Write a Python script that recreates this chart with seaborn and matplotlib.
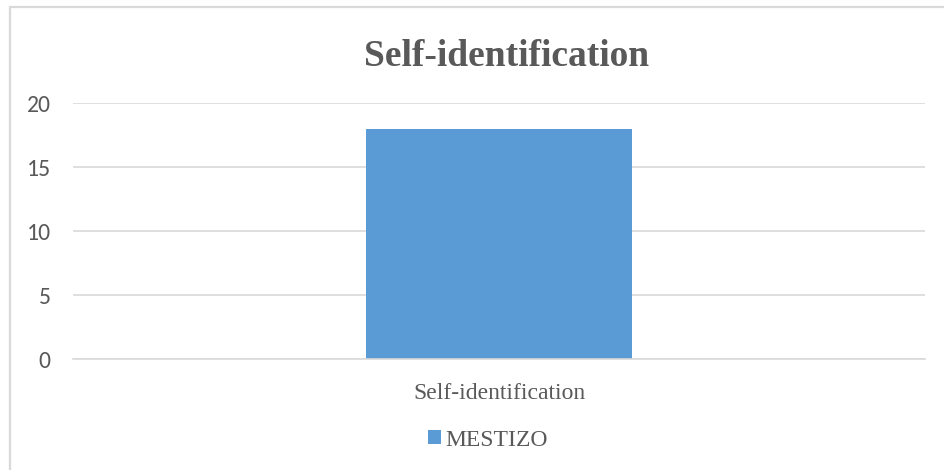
import matplotlib
matplotlib.use("Agg")
import matplotlib.pyplot as plt
import seaborn as sns
import pandas as pd
from matplotlib.patches import Rectangle

categories = ["Self-identification"]
series = ["MESTIZO"]
values = [18]
yticks = [0, 5, 10, 15, 20]
title = "Self-identification"

df = pd.DataFrame({"category": categories, "series": series, "value": values})

sns.set_theme(style="white")
plt.rcParams["font.family"] = ["Liberation Serif", "DejaVu Serif"]

fig = plt.figure(figsize=(9.44, 4.70), dpi=100)
ax = fig.add_axes([73/944, 1-359/470, (925-73)/944, (359-103)/470])

sns.barplot(data=df, x="category", y="value", hue="series", ax=ax,
            palette=["#5b9bd5"], width=0.313, saturation=1, edgecolor="none")

ax.set_ylim(0, 20)
ax.set_xlim(-0.5, 0.5)
ax.set_yticks(yticks)
ax.set_yticklabels([str(t) for t in yticks], fontfamily=["Carlito", "Lato", "DejaVu Sans"],
                   fontsize=17, color="#595959")
ax.tick_params(axis="y", length=0, pad=16)
ax.tick_params(axis="x", length=0, pad=17)
for lab in ax.get_xticklabels():
    lab.set_fontsize(17)
    lab.set_color("#595959")
    lab.set_fontfamily("Liberation Serif")
ax.set_xlabel("")
ax.set_ylabel("")
ax.yaxis.grid(True, color="#d9d9d9", linewidth=1.2)
ax.set_axisbelow(True)
for s in ["top", "right", "left"]:
    ax.spines[s].set_visible(False)
ax.spines["bottom"].set_color("#d9d9d9")
ax.spines["bottom"].set_linewidth(1.2)

sns.move_legend(ax, "center", bbox_to_anchor=(488/944, 1-440/470),
                bbox_transform=fig.transFigure, frameon=False, title=None,
                fontsize=17, handlelength=0.55, handleheight=0.55, handletextpad=0.15)
for t in ax.get_legend().get_texts():
    t.set_color("#595959")

fig.text(507/944, 1-56/470, title, ha="center", va="center", fontsize=27,
         fontweight="bold", color="#595959", family="Liberation Serif")

fig.patches.append(Rectangle((10/944, -0.1), 1.2, 1 - 7/470 + 0.1, transform=fig.transFigure,
                             fill=False, edgecolor="#d9d9d9", linewidth=1.6, figure=fig))

fig.savefig("out.png", dpi=100)
